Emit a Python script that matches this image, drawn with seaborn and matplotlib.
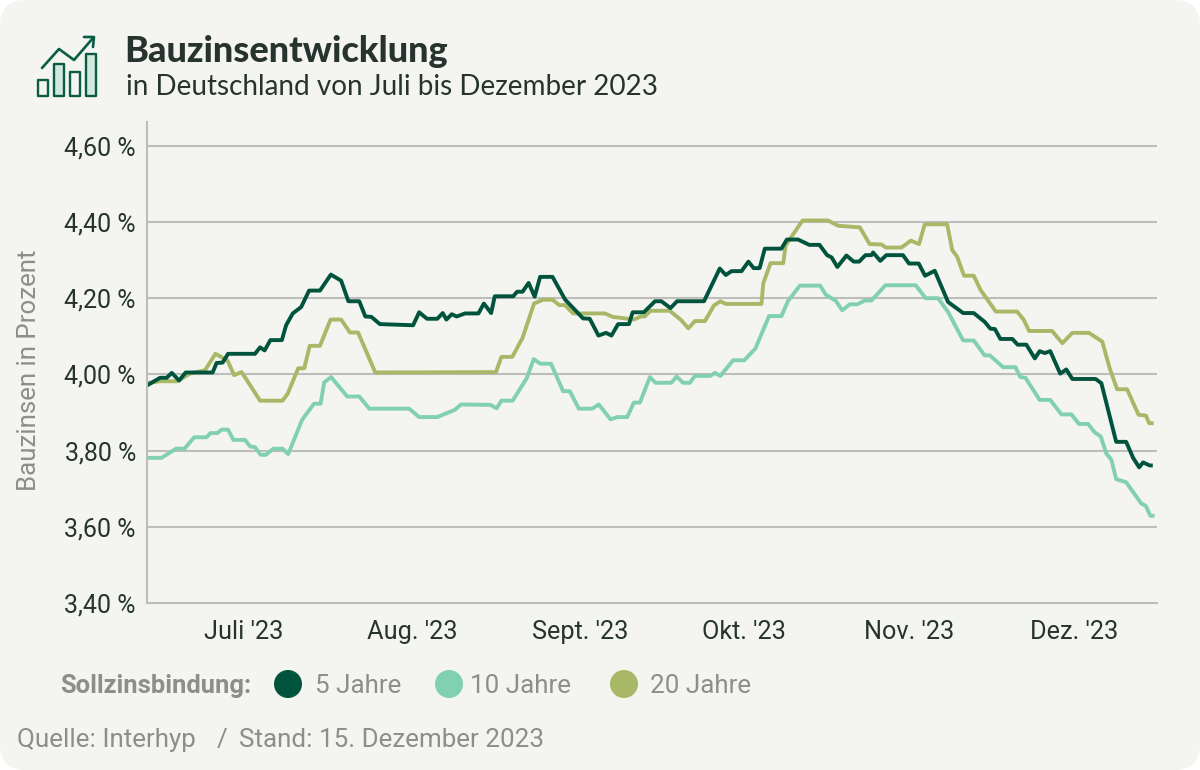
import numpy as np
import pandas as pd
import matplotlib
matplotlib.use("Agg")
import matplotlib.pyplot as plt
from matplotlib.patches import Circle, FancyBboxPatch, Rectangle
import seaborn as sns

# days since start of the chart / rate in percent
days_5 = [0, 2.15, 3.25, 4.1, 5.3, 6.4, 10.85, 11.5, 12.5, 13.4, 17.85, 18.7, 19.45, 20.4, 22.3, 23, 24.1, 25.5, 26.8, 28.6,
          30.4, 32.1, 33.3, 35.1, 36.1, 37.1, 38.5, 44, 45, 46.3, 48, 48.9, 49.5, 50.4, 51.2, 52.6, 54.8, 55.7, 56.9, 57.5,
          60.55, 61.2, 62.1, 63.1, 64.1, 65, 67.05, 69.15, 72.1, 73.2, 74.65, 75.9, 76.8, 77.9, 79.7, 80.3, 82.15, 84, 85.05, 86.55,
          87.65, 92.1, 94.7, 95.7, 96.65, 98.3, 99.45, 100.3, 101.3, 102.15, 104.9, 105.8, 107.65, 109.5, 111.2, 112.45, 113.2, 114.15, 115.65, 116.85,
          117.75, 118.8, 119.8, 120.05, 121.25, 122.25, 125, 126, 127.6, 128.65, 130.25, 132.45, 134.95, 136.7, 138.5, 139.45, 140.2, 141.1, 143.1, 143.95,
          145.4, 146.8, 147.6, 148.45, 149.35, 151, 152, 153, 156.85, 157.8, 160.25, 161.9, 163.05, 164.05, 164.7, 165.8, 166.3]
rate_5 = [3.971, 3.991, 3.991, 4.004, 3.984, 4.005, 4.005, 4.03, 4.031, 4.054, 4.054, 4.071, 4.063, 4.09, 4.09, 4.129, 4.16, 4.177, 4.22, 4.22,
          4.262, 4.246, 4.192, 4.192, 4.152, 4.151, 4.132, 4.129, 4.163, 4.146, 4.146, 4.161, 4.144, 4.158, 4.152, 4.16, 4.16, 4.186, 4.161, 4.205,
          4.205, 4.217, 4.217, 4.24, 4.204, 4.256, 4.256, 4.196, 4.147, 4.146, 4.102, 4.109, 4.102, 4.132, 4.132, 4.163, 4.163, 4.192, 4.192, 4.174,
          4.192, 4.192, 4.278, 4.261, 4.271, 4.271, 4.296, 4.279, 4.279, 4.33, 4.33, 4.354, 4.354, 4.34, 4.34, 4.313, 4.307, 4.282, 4.312, 4.296,
          4.296, 4.313, 4.313, 4.32, 4.298, 4.313, 4.313, 4.291, 4.291, 4.259, 4.272, 4.19, 4.161, 4.161, 4.138, 4.12, 4.119, 4.093, 4.093, 4.078,
          4.078, 4.042, 4.061, 4.056, 4.061, 4.002, 4.013, 3.988, 3.988, 3.977, 3.823, 3.823, 3.781, 3.756, 3.769, 3.761, 3.761]

days_10 = [0, 2.4, 4.8, 6.2, 7.8, 9.85, 10.5, 11.6, 12.35, 13.4, 14.3, 16.2, 17.05, 17.85, 18.8, 19.65, 20.9, 22.4, 23.35, 25.65,
           27.6, 28.7, 29.3, 30.45, 33.1, 35.1, 36.75, 43.35, 45, 48, 50.9, 51.9, 56.8, 57.8, 58.6, 60.45, 62.75, 63.95, 65.05, 66.8,
           68.8, 69.9, 71.4, 73.6, 74.7, 76.65, 77.75, 79.4, 80.5, 81.5, 83.15, 84.1, 86.7, 87.55, 88.65, 89.75, 90.6, 93.15, 93.9, 94.8,
           96.9, 98.75, 100.6, 102.85, 104.9, 106, 107.95, 111.3, 112.25, 113.9, 114.95, 116.2, 117.45, 118.7, 119.8, 122.1, 127.1, 128.75, 130.8, 132.45,
           134.95, 136.7, 138.5, 139.35, 141.55, 143.6, 144.4, 145.25, 147.6, 149.35, 151.2, 152.85, 154.1, 155.6, 156.7, 157.7, 158.6, 159.45, 160.25, 161.9,
           164.4, 165.15, 165.9, 166.6]
rate_10 = [3.781, 3.781, 3.805, 3.805, 3.835, 3.835, 3.846, 3.846, 3.855, 3.855, 3.828, 3.828, 3.811, 3.809, 3.789, 3.789, 3.805, 3.805, 3.791, 3.881,
           3.923, 3.923, 3.979, 3.993, 3.942, 3.942, 3.91, 3.91, 3.888, 3.888, 3.907, 3.921, 3.92, 3.911, 3.931, 3.931, 3.989, 4.04, 4.028, 4.028,
           3.956, 3.956, 3.91, 3.91, 3.921, 3.882, 3.888, 3.888, 3.926, 3.926, 3.993, 3.978, 3.978, 3.994, 3.978, 3.978, 3.996, 3.996, 4.004, 3.996,
           4.037, 4.037, 4.068, 4.153, 4.153, 4.193, 4.233, 4.233, 4.209, 4.193, 4.168, 4.184, 4.184, 4.194, 4.194, 4.234, 4.234, 4.2, 4.2, 4.164,
           4.089, 4.089, 4.05, 4.05, 4.019, 4.019, 3.993, 3.991, 3.933, 3.933, 3.895, 3.895, 3.87, 3.87, 3.848, 3.837, 3.793, 3.776, 3.725, 3.717,
           3.661, 3.655, 3.629, 3.629]

days_20 = [0, 2.15, 5, 7.1, 9.6, 11.3, 13.3, 14.4, 15.65, 18.7, 22.4, 23.25, 25, 26, 26.9, 28.6, 30.35, 32.1, 33.55, 34.9,
           37.75, 57.7, 58.6, 60.4, 62.1, 64, 65.5, 67.05, 68.15, 69.1, 70.45, 75.7, 77, 80.5, 81.65, 82.3, 83.25, 86.45, 88.35, 89.5,
           90.6, 92.25, 93.75, 94.8, 95.7, 101.6, 101.9, 103.1, 105.2, 105.6, 108.4, 112.6, 114.3, 117.85, 119.5, 121.45, 122.15, 124.75, 126.3, 127.65,
           128.6, 132.3, 133.15, 133.95, 135.1, 136.7, 137.85, 140.35, 143.85, 144.95, 145.85, 149.65, 151.35, 153, 155.75, 157.95, 159.2, 160.4, 162.05, 163.95,
           165.15, 165.7, 166.45]
rate_20 = [3.977, 3.982, 3.982, 4.002, 4.011, 4.054, 4.037, 3.998, 4.006, 3.931, 3.931, 3.949, 4.016, 4.016, 4.075, 4.075, 4.144, 4.144, 4.11, 4.11,
           4.005, 4.006, 4.046, 4.046, 4.096, 4.186, 4.196, 4.196, 4.182, 4.182, 4.16, 4.16, 4.151, 4.144, 4.152, 4.152, 4.167, 4.167, 4.142, 4.121,
           4.14, 4.14, 4.181, 4.192, 4.185, 4.185, 4.239, 4.292, 4.292, 4.339, 4.404, 4.404, 4.39, 4.386, 4.342, 4.341, 4.333, 4.333, 4.351, 4.342,
           4.394, 4.394, 4.326, 4.309, 4.259, 4.259, 4.221, 4.165, 4.165, 4.144, 4.114, 4.114, 4.082, 4.109, 4.109, 4.086, 4.015, 3.961, 3.961, 3.894,
           3.892, 3.872, 3.872]

month_pos = [16, 43.8, 71.6, 98.7, 126, 153.3]
month_labels = ["Juli '23", "Aug. '23", "Sept. '23", "Okt. '23", "Nov. '23", "Dez. '23"]
rate_ticks = [3.4, 3.6, 3.8, 4.0, 4.2, 4.4, 4.6]
series_names = ["5 Jahre", "10 Jahre", "20 Jahre"]

CARD = "#f4f5f0"
DARK = "#00533c"
MINT = "#82d0b2"
OLIVE = "#a8b867"
GRID = "#bdbdbb"
TEXT = "#27332f"
GREY = "#8d8e8a"

df = pd.concat([
    pd.DataFrame({"Tag": days_5, "Zins": rate_5, "Laufzeit": series_names[0]}),
    pd.DataFrame({"Tag": days_10, "Zins": rate_10, "Laufzeit": series_names[1]}),
    pd.DataFrame({"Tag": days_20, "Zins": rate_20, "Laufzeit": series_names[2]}),
])

sns.set_theme(style="white")
plt.rcParams["font.family"] = ["Roboto", "DejaVu Sans"]

fig = plt.figure(figsize=(12, 7.7), dpi=100, facecolor="white")

# overlay in pixel coordinates for card, header, icon, legend and source line
bg = fig.add_axes([0, 0, 1, 1], zorder=0)
bg.set_xlim(0, 1200)
bg.set_ylim(770, 0)
bg.axis("off")
bg.add_patch(FancyBboxPatch((0, 0), 1200, 770, boxstyle="round,pad=0,rounding_size=26",
                            fc=CARD, ec="none"))

# icon
for x0, top in [(38, 80), (54, 64), (70, 72), (86, 54)]:
    bg.add_patch(Rectangle((x0, top), 10, 96 - top, fc="#d0e8dd" if x0 != 38 and x0 != 70 else CARD,
                           ec="#0b5c45", lw=1.7, joinstyle="round"))
bg.plot([42, 59, 74, 93], [68, 49, 60, 38], color="#0b5c45", lw=1.9, solid_capstyle="round")
bg.plot([84, 94, 93], [37, 37, 47], color="#0b5c45", lw=1.9, solid_capstyle="round")

bg.text(124, 52, "Bauzinsentwicklung", fontsize=26, fontweight="black", family="Lato",
        color=TEXT, va="center", ha="left")
bg.text(126, 87, "in Deutschland von Juli bis Dezember 2023", fontsize=20.1, fontweight="normal", family="Lato",
        color=TEXT, va="center", ha="left")

# legend
bg.text(60.5, 686, "Sollzinsbindung:", fontsize=18.4, fontweight="bold", color=GREY, va="center", ha="left")
for cx, tx, col, name in zip([288, 449, 624], [315, 470, 650], [DARK, MINT, OLIVE], series_names):
    bg.add_patch(Circle((cx, 684), 14, fc=col, ec="none"))
    bg.text(tx, 686, name, fontsize=18.7, color=GREY, va="center", ha="left")

bg.text(17, 740, "Quelle: Interhyp", fontsize=18.7, color=GREY, va="center", ha="left")
bg.text(217, 740, "/", fontsize=18.7, color=GREY, va="center", ha="left")
bg.text(239, 740, "Stand: 15. Dezember 2023", fontsize=18.7, color=GREY, va="center", ha="left")

# the chart itself
ax = fig.add_axes([147 / 1200, (770 - 603) / 770, (1157 - 147) / 1200, (603 - 122) / 770], zorder=1)
ax.patch.set_alpha(0)
for y in rate_ticks[1:]:
    ax.axhline(y, color=GRID, lw=1.5, zorder=0)

sns.lineplot(data=df, x="Tag", y="Zins", hue="Laufzeit", hue_order=["10 Jahre", "20 Jahre", "5 Jahre"],
             palette={"5 Jahre": DARK, "10 Jahre": MINT, "20 Jahre": OLIVE},
             estimator=None, sort=False, lw=2.8, legend=False, ax=ax,
             solid_joinstyle="round", solid_capstyle="butt", zorder=2)

ax.set_xlim(0, 167)
ax.set_ylim(3.4, 3.4 + 481 / 381)
ax.set_xticks(month_pos)
ax.set_xticklabels(month_labels)
ax.set_yticks(rate_ticks)
ax.set_yticklabels([f"{v:.2f} %".replace(".", ",") for v in rate_ticks])
ax.tick_params(axis="x", length=0, labelsize=18.2, labelcolor=TEXT, pad=12)
ax.tick_params(axis="y", length=0, labelsize=18, labelcolor=TEXT, pad=8)
ax.set_xlabel("")
ax.set_ylabel("Bauzinsen in Prozent", fontsize=18.6, color=GREY)
ax.yaxis.set_label_coords(-106 / 1010, 0.483)
sns.despine(ax=ax)
for side in ["left", "bottom"]:
    ax.spines[side].set_color(GRID)
    ax.spines[side].set_linewidth(1.5)

fig.savefig("out.png", dpi=100, facecolor="white")
